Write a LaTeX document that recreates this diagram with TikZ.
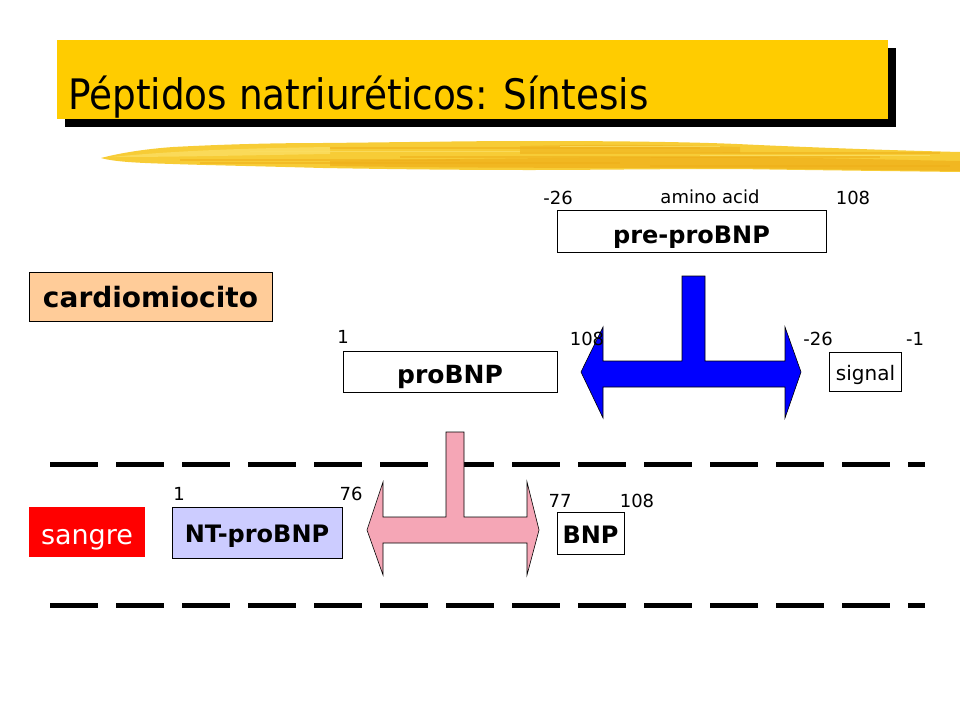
\documentclass[tikz,border=0pt]{standalone}
\usepackage{fontspec}
\setmainfont{DejaVu Sans}
\newfontfamily\titlefont[FakeStretch=0.89]{DejaVu Sans}
\definecolor{titleyellow}{HTML}{FFCC00}
\definecolor{brushA}{HTML}{F7CC36}
\definecolor{brushB}{HTML}{EFB01A}
\definecolor{brushC}{HTML}{FBDE62}
\definecolor{peach}{HTML}{FFCC99}
\definecolor{lilac}{HTML}{CCCCFF}
\definecolor{pinkarrow}{HTML}{F5A6B6}
\definecolor{bluearrow}{HTML}{0000FF}
\tikzset{
  box/.style={draw=black, line width=0.9pt, inner sep=0pt, align=center, text depth=0pt,
              font=\bfseries\fontsize{24}{24}\selectfont},
  num/.style={inner sep=0pt, anchor=base, font=\fontsize{18}{18}\selectfont},
  dashline/.style={line width=5pt, dash pattern=on 48pt off 18pt},
  bigarrow/.style={draw=black, line width=0.6pt, line join=miter},
}
\begin{document}
\begin{tikzpicture}[x=1pt,y=-1pt]
\useasboundingbox (0,0) rectangle (960,720);
% brush stroke
\fill[brushA] (101,158) .. controls (120,153) and (145,149) .. (173,147)
   .. controls (230,144) and (280,143) .. (323,143)
   .. controls (420,142) and (470,141) .. (530,141)
   .. controls (620,141) and (690,142) .. (737,144)
   .. controls (800,147) and (880,150) .. (960,152)
   -- (960,172)
   .. controls (880,171) and (800,170) .. (737,169)
   .. controls (650,169) and (590,170) .. (530,170)
   .. controls (450,170) and (380,169) .. (323,168)
   .. controls (250,166) and (200,165) .. (173,164)
   .. controls (140,163) and (115,162) .. (101,158) -- cycle;
\fill[brushB, opacity=0.75] (330,161) .. controls (450,159) and (600,157) .. (740,157)
   .. controls (830,158) and (900,160) .. (960,161) -- (960,171)
   .. controls (880,170) and (800,169) .. (737,168)
   .. controls (620,168) and (450,168) .. (330,166) -- cycle;
\fill[brushB, opacity=0.5] (520,146) .. controls (600,144) and (680,145) .. (740,147)
   -- (740,153) .. controls (680,152) and (600,152) .. (520,152) -- cycle;
\fill[brushC, opacity=0.8] (112,157) .. controls (180,150) and (260,148) .. (330,147)
   -- (330,154) .. controls (260,155) and (180,157) .. (112,157) -- cycle;
\foreach \yy/\xa/\xb in {148/330/700, 153/520/940, 163/200/620, 166/650/950, 157/400/880, 160/180/460}
  \draw[brushB, line width=1.2pt, opacity=0.6] (\xa,\yy) -- (\xb,\yy);
\foreach \yy/\xa/\xb in {151/250/520, 155/700/930, 146/560/720}
  \draw[brushC, line width=1pt, opacity=0.8] (\xa,\yy) -- (\xb,\yy);
% title box
\fill[black] (65,48) rectangle (896,127);
\fill[titleyellow] (57,40) rectangle (888,119);
\node[anchor=base west, inner sep=0pt, font=\titlefont\fontsize{42}{42}\selectfont] (title) at (68,109) {Péptidos natriuréticos: Síntesis};
% dashed lines
\draw[dashline] (50,464) -- (925,464);
\draw[dashline] (50,605) -- (925,605);
% blue arrow
\filldraw[bigarrow, fill=bluearrow] (682,276) -- (705,276) -- (705,361) -- (785,361) -- (785,327) -- (801,372)
  -- (785,418) -- (785,387) -- (603,387) -- (603,418) -- (581,372) -- (603,327) -- (603,361) -- (682,361) -- cycle;
% pink arrow
\filldraw[bigarrow, fill=pinkarrow] (446,432) -- (464,432) -- (464,517) -- (527,517) -- (527,482) -- (539,530)
  -- (527,575) -- (527,543) -- (383,543) -- (383,575) -- (367,530) -- (383,482) -- (383,517) -- (446,517) -- cycle;
% boxes
\node[box, fill=white, minimum width=269pt, minimum height=42pt, text height=24pt] (pre) at (691.5,231) {pre-proBNP};
\node[box, fill=peach, minimum width=243pt, minimum height=49pt, text height=21pt, font=\bfseries\fontsize{28}{28}\selectfont] (cardio) at (150.5,296.5) {cardiomiocito};
\node[box, fill=white, minimum width=214pt, minimum height=41pt, text height=23pt, font=\bfseries\fontsize{25}{25}\selectfont] (pro) at (450,371.5) {proBNP};
\node[box, fill=white, minimum width=72pt, minimum height=39pt, text height=17pt, font=\fontsize{20}{20}\selectfont] (signal) at (865.5,371.5) {signal};
\node[inner sep=0pt, fill=red, text=white, minimum width=116pt, minimum height=50pt, text height=24pt, text depth=0pt, font=\fontsize{27}{27}\selectfont] (sangre) at (87,532) {sangre};
\node[box, fill=lilac, minimum width=170pt, minimum height=51pt, text height=19pt] (nt) at (257,532.5) {NT-proBNP};
\node[box, fill=white, minimum width=67pt, minimum height=42pt, text height=20pt] (bnp) at (590.5,533) {BNP};
% number labels
\node[num] (n1) at (558,204) {-26};
\node[num] (n2) at (710,203) {amino acid};
\node[num] (n3) at (853,204) {108};
\node[num] (n4) at (343,343) {1};
\node[num] (n5) at (587,345) {108};
\node[num] (n6) at (818,345) {-26};
\node[num] (n7) at (915,345) {-1};
\node[num] (n8) at (179,500) {1};
\node[num] (n9) at (351,500) {76};
\node[num] (n10) at (560,507) {77};
\node[num] (n11) at (637,507) {108};
\end{tikzpicture}
\end{document}
